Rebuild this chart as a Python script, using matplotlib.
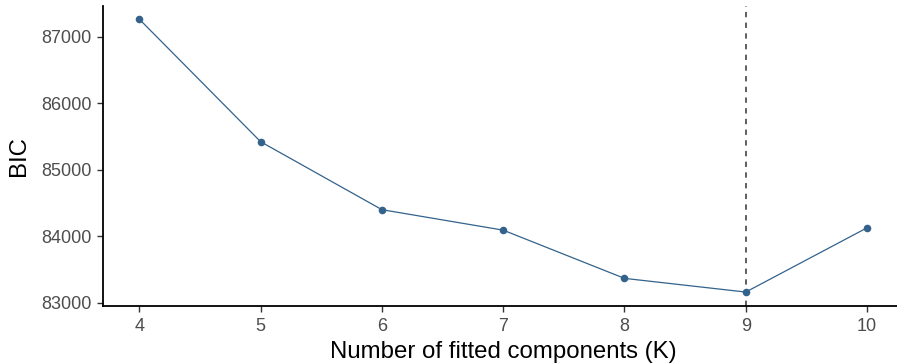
import matplotlib
matplotlib.use("Agg")
import matplotlib.pyplot as plt

K = [4, 5, 6, 7, 8, 9, 10]
bic = [87262, 85420, 84398, 84090, 83365, 83159, 84125]
best_k = 9

plt.rcParams['font.family'] = ['Liberation Sans', 'DejaVu Sans']

W, H = 897, 364
fig = plt.figure(figsize=(W / 100, H / 100), dpi=100)
left, right, top, bottom = 103, 903.4, 5.6, 305.7
ax = fig.add_axes([left / W, 1 - bottom / H, (right - left) / W, (bottom - top) / H])

col = '#33628C'
ax.plot(K, bic, color=col, lw=0.9, zorder=2)
ax.scatter(K, bic, s=30, color=col, zorder=3, linewidths=0)
ax.axvline(best_k, color='#333333', lw=1.1, ls=(0, (3.5, 3.5)), zorder=1)

xr = max(K) - min(K)
ax.set_xlim(min(K) - 0.05 * xr, max(K) + 0.05 * xr)
yr = max(bic) - min(bic)
ax.set_ylim(min(bic) - 0.05 * yr, max(bic) + 0.05 * yr)

ax.set_xticks(K)
ax.set_yticks([83000, 84000, 85000, 86000, 87000])
for s in ['top', 'right']:
    ax.spines[s].set_visible(False)
for s in ['left', 'bottom']:
    ax.spines[s].set_linewidth(1.3)
    ax.spines[s].set_color('black')
ax.tick_params(axis='both', length=4, width=1.0, color='#333333',
               labelsize=13, labelcolor='#4D4D4D')
ax.tick_params(axis='x', pad=5)
ax.tick_params(axis='y', pad=4)
ax.set_xlabel('Number of fitted components (K)', fontsize=17.3, color='black', labelpad=4)
ax.set_ylabel('BIC', fontsize=17.3, color='black', labelpad=8)

fig.savefig('out.png', dpi=100)
